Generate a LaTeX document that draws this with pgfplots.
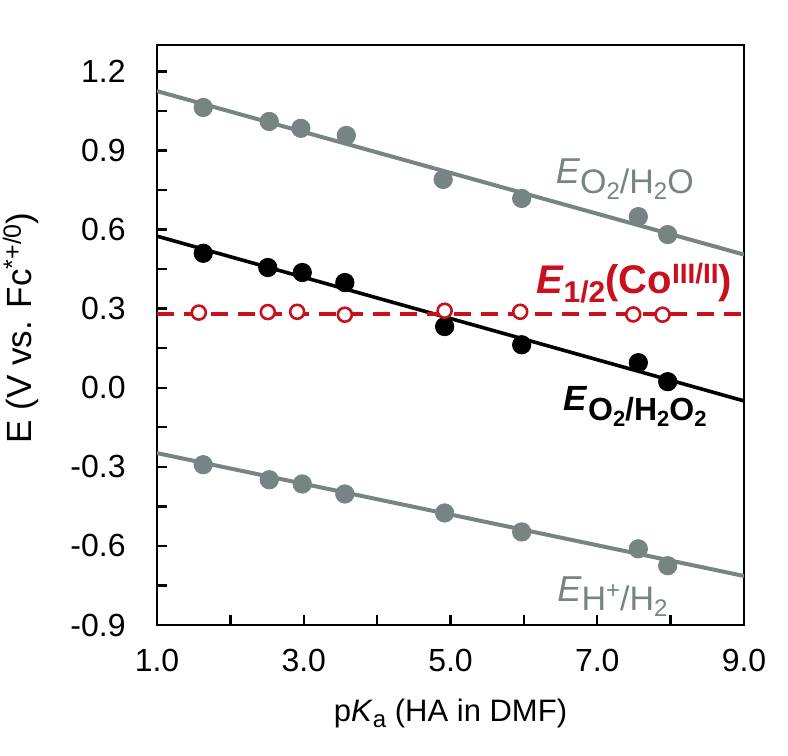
\documentclass[border=0pt]{standalone}
\usepackage{fontspec}
\setmainfont{Liberation Sans}
\usepackage{pgfplots}
\pgfplotsset{compat=1.18}
\definecolor{gr}{RGB}{118,133,132}
\definecolor{rd}{RGB}{200,16,30}
\begin{document}
\begin{tikzpicture}
\begin{axis}[
  scale only axis, width=293.5pt, height=290pt,
  xmin=1, xmax=9, ymin=-0.9, ymax=1.3,
  xtick={1,3,5,7,9}, minor xtick={2,4,6,8},
  ytick={-0.9,-0.6,-0.3,0,0.3,0.6,0.9,1.2},
  minor ytick={-0.75,-0.45,-0.15,0.15,0.45,0.75,1.05},
  xtick pos=bottom, ytick pos=left, tick align=inside,
  major tick length=5pt, minor tick length=5pt,
  every tick/.style={black, line width=1.2pt},
  every minor tick/.style={black, line width=1.2pt},
  axis line style={line width=1.3pt},
  /pgf/number format/assume math mode=true,
  xticklabel style={/pgf/number format/.cd, fixed, fixed zerofill, precision=1, /tikz/.cd, inner sep=0pt, anchor=north, yshift=-12pt, font=\fontsize{16}{18}\selectfont},
  yticklabel style={/pgf/number format/.cd, fixed, fixed zerofill, precision=1, /tikz/.cd, inner sep=0pt, anchor=east, xshift=-15.5pt, font=\fontsize{16}{18}\selectfont},
  xlabel={p\textit{K}\raisebox{-3pt}{\fontsize{12}{14}\selectfont a} (HA in DMF)},
  xlabel style={at={(axis description cs:0.5,-0.167)}, anchor=base, inner sep=0pt, font=\fontsize{15.5}{18}\selectfont},
  ylabel={E (V vs. Fc\raisebox{5.5pt}{\fontsize{12.5}{14}\selectfont *+/0})},
  ylabel style={at={(axis description cs:-0.213,0.512)}, anchor=base, rotate=0, inner sep=0pt, font=\fontsize{17.5}{20}\selectfont},
]
\coordinate (sw) at (rel axis cs:0,0);
\coordinate (ne) at (rel axis cs:1,1);
% fit lines
\addplot[gr, line width=2pt] coordinates {(1,1.125) (9,0.505)};
\addplot[black, line width=1.8pt] coordinates {(1,0.575) (9,-0.05)};
\addplot[gr, line width=2pt] coordinates {(1,-0.248) (9,-0.714)};
\addplot[rd, line width=2pt, dash pattern=on 8.5pt off 5pt] coordinates {(1,0.28) (9,0.28)};
% E O2/H2O
\addplot[only marks, mark=*, mark size=4.6pt, gr, mark options={draw=gr, fill=gr}] coordinates {
(1.63,1.063) (2.53,1.010) (2.96,0.984) (3.58,0.957) (4.90,0.790) (5.97,0.718) (7.56,0.649) (7.96,0.581)};
% E O2/H2O2
\addplot[only marks, mark=*, mark size=4.6pt, black] coordinates {
(1.63,0.510) (2.51,0.456) (2.98,0.437) (3.56,0.399) (4.92,0.232) (5.97,0.163) (7.56,0.095) (7.96,0.023)};
% E H+/H2
\addplot[only marks, mark=*, mark size=4.6pt, gr, mark options={draw=gr, fill=gr}] coordinates {
(1.63,-0.292) (2.53,-0.349) (2.98,-0.365) (3.56,-0.403) (4.92,-0.475) (5.97,-0.547) (7.56,-0.611) (7.96,-0.675)};
% E1/2 Co
\addplot[only marks, mark=*, mark size=3.5pt, mark options={draw=rd, fill=white, line width=1.3pt}] coordinates {
(1.57,0.285) (2.51,0.287) (2.91,0.288) (3.56,0.277) (4.92,0.292) (5.95,0.288) (7.49,0.278) (7.89,0.277)};
% labels
\node[anchor=base west, text=gr, font=\fontsize{18}{21}\selectfont, inner sep=0pt] at (axis cs:6.43,0.775)
 {\textit{E}\raisebox{-5pt}{\fontsize{17}{19}\selectfont O\raisebox{-3pt}{\fontsize{12}{14}\selectfont 2}/H\raisebox{-3pt}{\fontsize{12}{14}\selectfont 2}O}};
\node[anchor=base west, text=rd, font=\bfseries\fontsize{20}{24}\selectfont, inner sep=0pt] at (axis cs:6.16,0.357)
 {\textit{E}\raisebox{-4.5pt}{\fontsize{15}{18}\selectfont 1/2}(Co\raisebox{5pt}{\fontsize{14}{16}\selectfont III/II})};
\node[anchor=base west, text=black, font=\bfseries\fontsize{17.5}{20}\selectfont, inner sep=0pt] at (axis cs:6.54,-0.087)
 {\textit{E}\raisebox{-5pt}{\fontsize{16}{18}\selectfont O\raisebox{-3pt}{\fontsize{11}{13}\selectfont 2}/H\raisebox{-3pt}{\fontsize{11}{13}\selectfont 2}O\raisebox{-3pt}{\fontsize{11}{13}\selectfont 2}}};
\node[anchor=base west, text=gr, font=\fontsize{18}{21}\selectfont, inner sep=0pt] at (axis cs:6.45,-0.809)
 {\textit{E}\raisebox{-4.5pt}{\fontsize{17}{19}\selectfont H\raisebox{6pt}{\fontsize{12}{14}\selectfont +}/H\raisebox{-3pt}{\fontsize{12}{14}\selectfont 2}}};
\end{axis}
\pgfresetboundingbox
\path ([shift={(-78.5pt,-65pt)}]sw) rectangle ([shift={(22pt,22.5pt)}]ne);
\end{tikzpicture}
\end{document}
